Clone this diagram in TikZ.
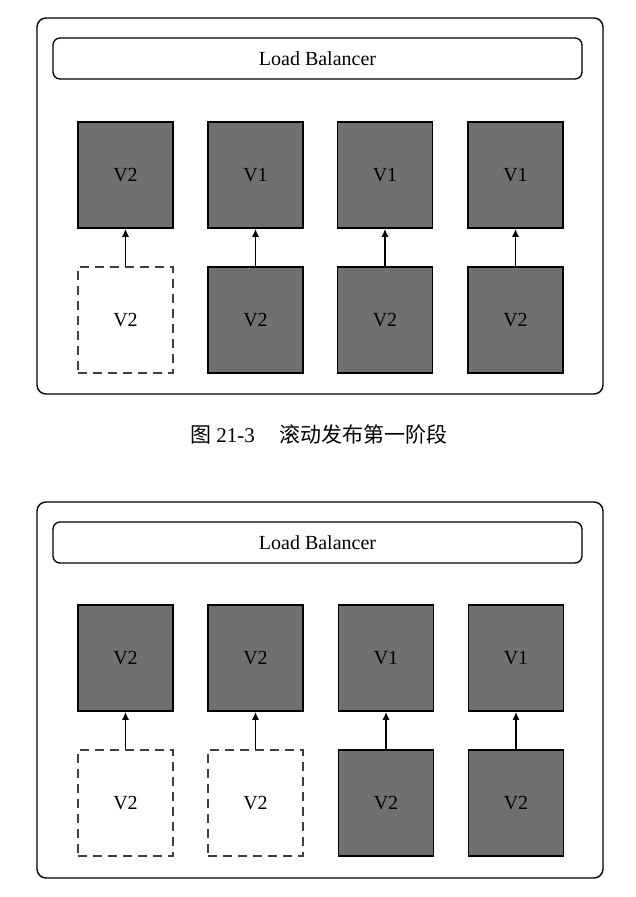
\documentclass[tikz,border=0pt]{standalone}
\usepackage{fontspec}
\setmainfont{Liberation Serif}
\newfontfamily\cjk{Noto Sans CJK SC}
\usepackage{tikz}
\usetikzlibrary{arrows.meta}
\definecolor{podgray}{RGB}{112,112,112}

\begin{document}
\begin{tikzpicture}[x=1pt,y=-1pt,
  pod/.style={draw=black,line width=1.5pt,fill=podgray,minimum width=95pt,
    minimum height=106pt,inner sep=0pt,font=\fontsize{20}{22}\selectfont},
  ghost/.style={draw=black!75,line width=1.4pt,dash pattern=on 9pt off 6pt,
    minimum width=95pt,minimum height=106pt,inner sep=0pt,
    font=\fontsize{20}{22}\selectfont},
  lb/.style={draw,line width=1.3pt,rounded corners=7pt,minimum width=529pt,
    minimum height=41pt,font=\fontsize{20}{22}\selectfont},
  frame/.style={draw,line width=1.4pt,rounded corners=9pt},
  up/.style={-{Latex[length=8pt,width=7pt]},line width=1.6pt}]
\useasboundingbox (0,0) rectangle (636,897);
%%%%%%%%%%%%%%%%%%%%%%%%%%%%%%%%
%% first stage
%%%%%%%%%%%%%%%%%%%%%%%%%%%%%%%%
\draw[frame] (37,18) rectangle (603,394);
\node[lb] (lbA) at (317.5,58.5) {Load Balancer};

\node[pod] (upA1) at (125.5,175) {V2};
\node[pod] (upA2) at (255.5,175) {V1};
\node[pod] (upA3) at (385,175) {V1};
\node[pod] (upA4) at (515.5,175) {V1};

\node[ghost] (dnA1) at (125.5,320) {V2};
\node[pod]   (dnA2) at (255.5,320) {V2};
\node[pod]   (dnA3) at (385,320) {V2};
\node[pod]   (dnA4) at (515.5,320) {V2};
%
\draw[up] (dnA1) -- (upA1);
\draw[up] (dnA2) -- (upA2);
\draw[up] (dnA3) -- (upA3);
\draw[up] (dnA4) -- (upA4);

\node[font=\fontsize{21}{24}\selectfont] (capA) at (319,434)
  {{\cjk 图} 21-3\hspace{25pt}{\cjk 滚动发布第一阶段}};
%%%%%%%%%%%%%%%%%%%%%%%%%%%%%%%%
%% second stage
%%%%%%%%%%%%%%%%%%%%%%%%%%%%%%%%
\draw[frame] (37,18+484) rectangle (603,394+484);
\node[lb] (lbB) at (317.5,58.5+484) {Load Balancer};

\node[pod] (upB1) at (125.5,175+483) {V2};
\node[pod] (upB2) at (255.5,175+483) {V2};
\node[pod] (upB3) at (386,175+483) {V1};
\node[pod] (upB4) at (516,175+483) {V1};

\node[ghost] (dnB1) at (125.5,320+483) {V2};
\node[ghost] (dnB2) at (255.5,320+483) {V2};
\node[pod]   (dnB3) at (386,320+483) {V2};
\node[pod]   (dnB4) at (516,320+483) {V2};
%
\draw[up] (dnB1) -- (upB1);
\draw[up] (dnB2) -- (upB2);
\draw[up] (dnB3) -- (upB3);
\draw[up] (dnB4) -- (upB4);
\end{tikzpicture}
\end{document}
